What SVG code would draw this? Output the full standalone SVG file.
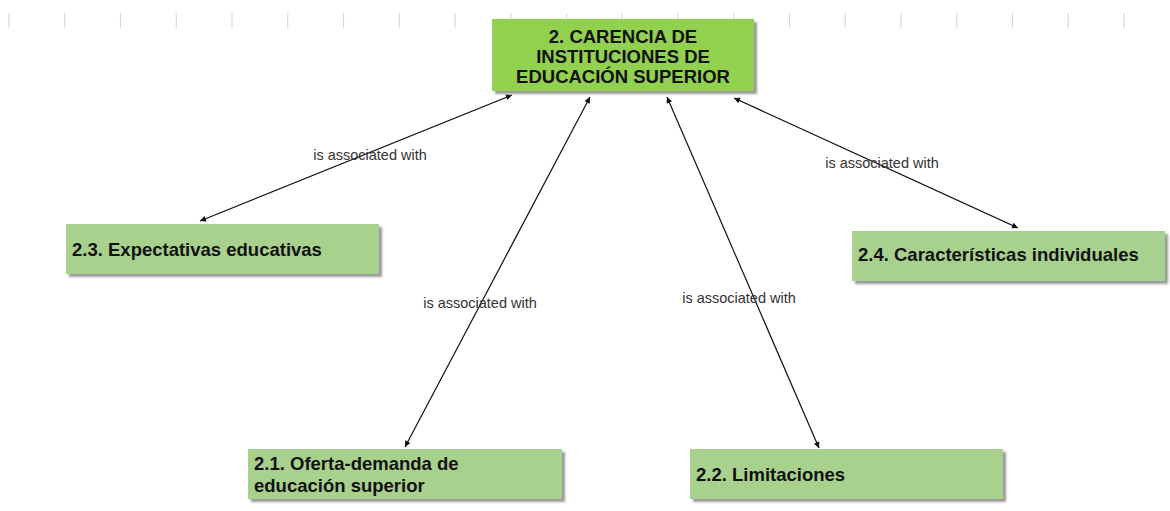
<svg xmlns="http://www.w3.org/2000/svg" width="1170" height="511" viewBox="0 0 1170 511">
<style>
.tick{stroke:#d9d9d9;stroke-width:1.2}
.shadow{fill:#9a9a9a;filter:url(#blur)}
.main{fill:#92D050}
.sub{fill:#A9D18E}
.t{font-family:"Liberation Sans",Arial,sans-serif;font-weight:bold;font-size:18.5px;fill:#111}
.lbl{font-family:"Liberation Sans",Arial,sans-serif;font-size:14.5px;fill:#333}
.edge{stroke:#111;stroke-width:1.2;fill:none;marker-start:url(#ah);marker-end:url(#ah)}
</style>
<defs>
<filter id="blur" x="-5%" y="-20%" width="110%" height="140%"><feGaussianBlur stdDeviation="1.2"/></filter>
<marker id="ah" viewBox="0 0 10 10" refX="10" refY="5" markerWidth="8" markerHeight="6" orient="auto-start-reverse" markerUnits="userSpaceOnUse"><path d="M0,0 L10,5 L0,10 z" fill="#111"/></marker>
</defs>
<rect width="1170" height="511" fill="#fff"/>
<g id="ticks">
<line class="tick" x1="9" y1="13" x2="9" y2="28"/>
<line class="tick" x1="64.75" y1="13" x2="64.75" y2="28"/>
<line class="tick" x1="120.5" y1="13" x2="120.5" y2="28"/>
<line class="tick" x1="176.25" y1="13" x2="176.25" y2="28"/>
<line class="tick" x1="232" y1="13" x2="232" y2="28"/>
<line class="tick" x1="287.75" y1="13" x2="287.75" y2="28"/>
<line class="tick" x1="343.5" y1="13" x2="343.5" y2="28"/>
<line class="tick" x1="399.25" y1="13" x2="399.25" y2="28"/>
<line class="tick" x1="455" y1="13" x2="455" y2="28"/>
<line class="tick" x1="510.75" y1="13" x2="510.75" y2="28"/>
<line class="tick" x1="566.5" y1="13" x2="566.5" y2="28"/>
<line class="tick" x1="622.25" y1="13" x2="622.25" y2="28"/>
<line class="tick" x1="678" y1="13" x2="678" y2="28"/>
<line class="tick" x1="733.75" y1="13" x2="733.75" y2="28"/>
<line class="tick" x1="789.5" y1="13" x2="789.5" y2="28"/>
<line class="tick" x1="845.25" y1="13" x2="845.25" y2="28"/>
<line class="tick" x1="901" y1="13" x2="901" y2="28"/>
<line class="tick" x1="956.75" y1="13" x2="956.75" y2="28"/>
<line class="tick" x1="1012.5" y1="13" x2="1012.5" y2="28"/>
<line class="tick" x1="1068.25" y1="13" x2="1068.25" y2="28"/>
<line class="tick" x1="1124" y1="13" x2="1124" y2="28"/>
</g>
<g id="connectors">
<line class="edge" x1="512" y1="95" x2="200" y2="221"/>
<line class="edge" x1="590" y1="97" x2="405" y2="447"/>
<line class="edge" x1="667" y1="97" x2="819" y2="448"/>
<line class="edge" x1="734" y1="98" x2="1018" y2="228"/>
<text class="lbl" x="370" y="160" text-anchor="middle">is associated with</text>
<text class="lbl" x="480" y="308" text-anchor="middle">is associated with</text>
<text class="lbl" x="739" y="303" text-anchor="middle">is associated with</text>
<text class="lbl" x="882" y="168" text-anchor="middle">is associated with</text>
</g>
<g id="n2">
<rect class="shadow" x="495" y="22" width="262" height="72"/>
<rect class="main" x="492" y="19" width="262" height="72"/>
<text class="t" x="623" y="43" text-anchor="middle">2. CARENCIA DE</text>
<text class="t" x="623" y="63" text-anchor="middle">INSTITUCIONES DE</text>
<text class="t" x="623" y="83" text-anchor="middle">EDUCACIÓN SUPERIOR</text>
</g>
<g id="n23">
<rect class="shadow" x="69" y="227" width="313" height="50"/>
<rect class="sub" x="66" y="224" width="313" height="50"/>
<text class="t" x="72" y="256">2.3. Expectativas educativas</text>
</g>
<g id="n24">
<rect class="shadow" x="855" y="234" width="313" height="50"/>
<rect class="sub" x="852" y="231" width="313" height="50"/>
<text class="t" x="858" y="261">2.4. Características individuales</text>
</g>
<g id="n21">
<rect class="shadow" x="251" y="452" width="314" height="50"/>
<rect class="sub" x="248" y="449" width="314" height="50"/>
<text class="t" x="254" y="470">2.1. Oferta-demanda de</text>
<text class="t" x="254" y="492">educación superior</text>
</g>
<g id="n22">
<rect class="shadow" x="693" y="452" width="313" height="50"/>
<rect class="sub" x="690" y="449" width="313" height="50"/>
<text class="t" x="696" y="481">2.2. Limitaciones</text>
</g>
</svg>
